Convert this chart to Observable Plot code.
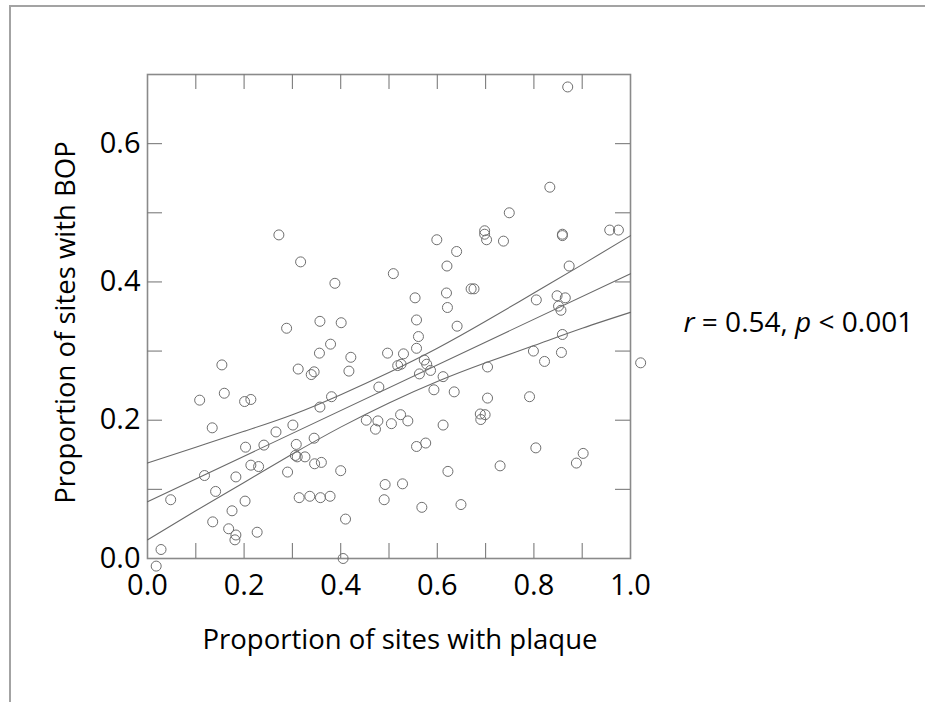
<!DOCTYPE html>
<html>
<head>
<meta charset="utf-8">
<script src="https://cdn.jsdelivr.net/npm/d3@7"></script>
<script src="https://cdn.jsdelivr.net/npm/@observablehq/plot@0.6"></script>
<style>
  html, body { margin: 0; padding: 0; background: #fff; overflow: hidden; }
  #wrap { position: relative; width: 925px; height: 702px; }
  #border { position: absolute; left: 9px; top: 5px; width: 940px; height: 720px;
            border-top: 2px solid #a3a3a3; border-left: 2px solid #a3a3a3; }
  #chart { position: absolute; left: 0; top: 0; }
</style>
</head>
<body>
<div id="wrap"><div id="border"></div><div id="chart"></div></div>
<script>
// Proportion of sites with plaque (x) and with BOP (y), one pair per subject
const plaque = [
  0.272,0.317,0.388,0.509,
  0.288,0.357,0.401,0.379,0.356,0.497,0.530,0.421,0.154,0.312,0.345,0.339,0.417,0.518,0.159,0.108,
  0.201,0.214,0.479,0.381,0.357,0.134,0.301,0.266,0.453,0.477,0.472,0.505,0.524,0.345,0.308,0.203,
  0.241,0.306,0.310,0.326,0.214,0.230,0.346,0.360,0.118,0.183,0.290,0.400,0.492,0.528,0.141,0.048,
  0.202,0.314,0.336,0.358,0.378,0.490,0.175,0.135,0.410,0.168,0.183,0.181,0.227,0.028,0.405,0.018,
  0.870,0.833,0.749,0.698,0.698,0.702,0.599,0.737,0.859,0.859,0.957,0.975,0.640,0.620,0.873,0.670,
  0.676,0.619,0.554,0.621,0.805,0.848,0.865,0.851,0.856,
  0.557,0.641,0.561,0.557,0.859,0.799,0.857,0.822,1.021,0.573,0.578,0.525,0.563,0.586,0.704,0.612,
  0.593,0.635,0.704,0.791,0.539,0.612,0.689,0.699,0.690,0.557,0.576,0.804,0.730,0.622,0.888,0.902,
  0.568,0.649
];
const bop = [
  0.468,0.429,0.398,0.412,
  0.333,0.343,0.341,0.310,0.297,0.297,0.296,0.291,0.280,0.274,0.270,0.266,0.271,0.279,0.239,0.229,
  0.227,0.230,0.248,0.234,0.219,0.189,0.193,0.183,0.200,0.199,0.187,0.195,0.208,0.174,0.165,0.161,
  0.164,0.149,0.147,0.147,0.135,0.133,0.137,0.139,0.120,0.118,0.125,0.127,0.107,0.108,0.097,0.085,
  0.083,0.088,0.090,0.088,0.090,0.085,0.069,0.053,0.057,0.043,0.034,0.027,0.038,0.013,0.000,-0.011,
  0.682,0.537,0.500,0.474,0.469,0.461,0.461,0.459,0.469,0.467,0.475,0.475,0.444,0.423,0.423,0.390,
  0.390,0.384,0.377,0.363,0.374,0.380,0.377,0.365,0.359,
  0.345,0.336,0.321,0.304,0.324,0.300,0.298,0.285,0.283,0.287,0.281,0.281,0.267,0.272,0.277,0.263,
  0.244,0.241,0.232,0.234,0.199,0.193,0.209,0.208,0.201,0.162,0.167,0.160,0.134,0.126,0.138,0.152,
  0.074,0.078
];

// Fitted regression line and 95% confidence limits
const fitX = [0, 1];
const fitY = [0.082, 0.412];
const ciX = [0, 0.1, 0.2, 0.3, 0.4, 0.5, 0.6, 0.7, 0.8, 0.9, 1.0];
const ciUpper = [0.138, 0.161, 0.184, 0.208, 0.237, 0.269, 0.304, 0.343, 0.384, 0.425, 0.467];
const ciLower = [0.027, 0.069, 0.110, 0.151, 0.190, 0.225, 0.256, 0.283, 0.308, 0.333, 0.356];

// Axes
const xMinorTicks = [0.1, 0.2, 0.3, 0.4, 0.5, 0.6, 0.7, 0.8, 0.9];
const yMinorTicks = [0.1, 0.2, 0.3, 0.4, 0.5, 0.6];
const xTickLabels = [0, 0.2, 0.4, 0.6, 0.8, 1.0];
const yTickLabels = [0, 0.2, 0.4, 0.6];
const xTitle = "Proportion of sites with plaque";
const yTitle = "Proportion of sites with BOP";
const annotationParts = [["r", true], [" = 0.54, ", false], ["p", true], [" < 0.001", false]];
const annotation = [annotationParts.map(d => d[0]).join("")];

const points = plaque.map((x, i) => ({plaque: x, bop: bop[i]}));
const fmt = d3.format(".1f");
const gray = "#7c7c7c";

const chart = Plot.plot({
  width: 925,
  height: 702,
  marginLeft: 147,
  marginRight: 295,
  marginTop: 74,
  marginBottom: 144,
  x: {domain: [0, 1]},
  y: {domain: [0, 0.7]},
  style: {fontFamily: "'Open Sans', sans-serif", fontSize: "27px", color: "#000", background: "transparent", overflow: "visible"},
  marks: [
    Plot.frame({stroke: "#8a8a8a", strokeWidth: 1.6}),
    Plot.tickX(xMinorTicks, {x: d => d, insetTop: 469, stroke: gray, strokeWidth: 1.1}),
    Plot.tickX(xMinorTicks, {x: d => d, insetBottom: 469, stroke: gray, strokeWidth: 1.1}),
    Plot.tickY(yMinorTicks, {y: d => d, insetRight: 468, stroke: gray, strokeWidth: 1.1}),
    Plot.tickY(yMinorTicks, {y: d => d, insetLeft: 468, stroke: gray, strokeWidth: 1.1}),
    Plot.axisX(xTickLabels, {tickSize: 0, tickPadding: 16, tickFormat: fmt, label: null, fontSize: 29, fill: "#000"}),
    Plot.axisY(yTickLabels, {tickSize: 0, tickPadding: 7, tickFormat: fmt, label: null, fontSize: 29, fill: "#000"}),
    Plot.line(ciX, {x: ciX, y: ciUpper, curve: "natural", stroke: "#6a6a6a", strokeWidth: 1.1}),
    Plot.line(ciX, {x: ciX, y: ciLower, curve: "natural", stroke: "#6a6a6a", strokeWidth: 1.1}),
    Plot.line(fitX, {x: fitX, y: fitY, stroke: "#6a6a6a", strokeWidth: 1.1}),
    Plot.dot(points, {x: "plaque", y: "bop", r: 5, stroke: "#6e6e6e", strokeWidth: 1, fill: "none"}),
    Plot.text([xTitle], {text: d => d, frameAnchor: "bottom", textAnchor: "middle", dx: 11, dy: 82, lineAnchor: "middle", fontSize: 27.5, fill: "#000"}),
    Plot.text([yTitle], {text: d => d, frameAnchor: "left", textAnchor: "middle", rotate: -90, dx: -81, dy: 6, lineAnchor: "middle", fontSize: 27.5, fill: "#000"}),
    Plot.text(annotation, {text: d => d, frameAnchor: "right", dx: 53, dy: 7, textAnchor: "start", lineAnchor: "middle", fontSize: 28, fill: "#000"})
  ]
});

document.getElementById("chart").appendChild(chart);

// italic r and p in the annotation
d3.select(chart).selectAll("text")
  .filter(function() { return this.textContent === annotation[0]; })
  .each(function() {
    const t = d3.select(this);
    t.text(null);
    annotationParts.forEach(([s, it]) => {
      t.append("tspan").style("font-style", it ? "italic" : "normal").text(s);
    });
  });
</script>
</body>
</html>
